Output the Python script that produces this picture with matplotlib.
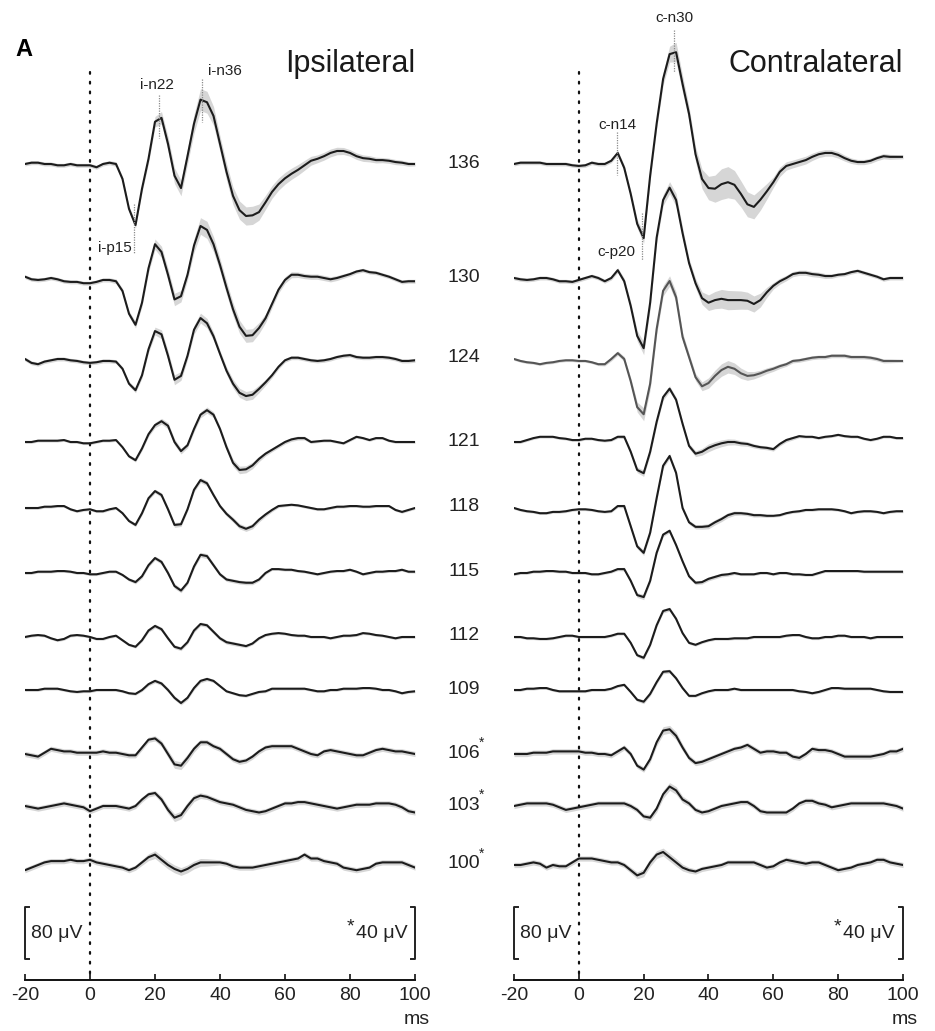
import numpy as np
import matplotlib
matplotlib.use("Agg")
import matplotlib.pyplot as plt

plt.rcParams['font.family'] = ['Liberation Sans', 'DejaVu Sans']

# ---------------- data ----------------
time_ms = np.arange(-20, 101, 2)        # 61 samples
sd_time_ms = np.arange(-20, 101, 5)     # 25 samples for the SD band

intensities = ['136', '130', '124', '121', '118', '115', '112', '109', '106', '103', '100']
starred = [False, False, False, False, False, False, False, False, True, True, True]

# mean traces, µV (negative plotted upward)
ipsi_136 = [0, -2, -2, 0, 0, 2, 2, 0, 2, 2,
            2, 5, 0, -2, 0, 23, 69, 94, 38, -8,
            -65, -71, -31, 18, 37, -12, -62, -99, -95, -74,
            -31, 12, 49, 71, 80, 79, 74, 59, 43, 31,
            22, 15, 9, 2, -5, -8, -12, -17, -20, -20,
            -17, -12, -9, -8, -6, -6, -5, -3, -2, 0, 0]
ipsi_130 = [-2, 2, 3, 2, 0, 2, 5, 6, 6, 8,
            8, 6, 3, 3, 5, 20, 55, 72, 38, -15,
            -52, -40, -5, 33, 28, -5, -50, -80, -74, -52,
            -20, 15, 48, 75, 89, 88, 77, 62, 40, 18,
            3, -5, -5, -3, -2, -2, 0, 2, 0, -3,
            -6, -10, -12, -9, -8, -5, -2, 2, 6, 5, 5]
ipsi_124 = [0, 6, 8, 4, 2, 0, 0, 2, 3, 5,
            6, 5, 3, 3, 4, 15, 38, 48, 25, -15,
            -43, -38, -5, 32, 26, -5, -45, -63, -55, -35,
            -8, 18, 38, 52, 57, 55, 46, 36, 25, 12,
            2, -2, -2, 0, 2, 3, 2, 0, -3, -5,
            -6, -3, -2, -2, -3, -3, -2, 0, 3, 3, 2]
ipsi_121 = [0, 0, -2, -2, -2, -2, -3, 0, 0, 2,
            2, 0, -2, -2, -3, 8, 22, 28, 10, -12,
            -26, -32, -25, 0, 14, 5, -20, -42, -49, -42,
            -20, 8, 32, 43, 42, 36, 26, 18, 12, 6,
            0, -4, -6, -6, 0, -1, -2, -2, 0, 2,
            -3, -8, -6, -3, -6, -6, -2, 0, 0, 0, 0]
ipsi_118 = [0, 0, 0, -2, -2, -3, -3, 2, 5, 3,
            2, 5, 5, 2, 0, 8, 20, 26, 8, -15,
            -26, -20, 2, 26, 25, 2, -28, -43, -38, -20,
            -3, 9, 18, 28, 32, 28, 18, 10, 3, -3,
            -4, -5, -4, -2, 0, 2, 2, 0, -2, -2,
            -3, -3, -2, -2, -3, -3, -3, 3, 6, 3, 0]
ipsi_115 = [0, 0, -2, -2, -2, -3, -3, -2, 0, 0,
            2, 2, 0, -2, -2, 3, 10, 14, 5, -12,
            -23, -17, 0, 20, 27, 15, -10, -28, -26, -12,
            2, 10, 12, 14, 15, 15, 10, 0, -6, -6,
            -5, -5, -3, -2, 0, 2, 0, -2, -3, -3,
            -5, -2, 2, 0, -2, -2, -3, -3, -5, -2, -2]
ipsi_112 = [0, -2, -3, -2, 2, 5, 3, -2, -3, -2,
            0, 3, 3, 0, -2, 5, 12, 15, 5, -10,
            -17, -12, 2, 15, 18, 8, -10, -20, -18, -8,
            2, 8, 10, 12, 14, 10, 2, -3, -5, -6,
            -5, -3, -2, -2, 0, 0, 0, 2, 0, -2,
            -2, -3, -6, -5, -3, -2, 0, 2, 0, 0, 0]
ipsi_109 = [0, 0, 0, -2, -2, -2, 0, 2, 3, 2,
            2, 0, 0, 0, 0, 2, 5, 6, 0, -9,
            -14, -10, 0, 12, 20, 12, -3, -14, -17, -14,
            -6, 2, 5, 8, 9, 6, 3, 2, -2, -2,
            -2, -2, -2, -2, 0, 2, 2, 0, 0, -2,
            -2, -2, -3, -3, -2, 0, 0, 2, 5, 3, 2]
ipsi_106 = [0, 1, 2, -1, -4, -3, -2, -2, -1, -1,
            -1, -1, -2, -1, -1, 0, 1, 1, -5, -11,
            -12, -8, 0, 8, 9, 3, -4, -9, -9, -6,
            -4, 0, 4, 6, 5, 2, -2, -5, -6, -6,
            -6, -6, -4, -2, 0, 1, -2, -3, -2, -1,
            0, 1, 1, -1, -3, -4, -3, -2, -2, -1, 0]
ipsi_103 = [0, 1, 2, 1, 0, -1, -2, -1, 0, 1,
            4, 2, 0, 0, 0, 1, 2, 0, -5, -9,
            -10, -5, 3, 9, 7, 0, -6, -8, -7, -5,
            -3, -2, -1, 1, 3, 4, 5, 4, 2, 0,
            -2, -2, -3, -3, -2, -1, 0, 1, 2, 1,
            0, -1, -1, -1, -2, -2, -2, -1, 1, 4, 5]
ipsi_100 = [4, 2, 0, -2, -3, -3, -3, -4, -3, -3,
            -4, -2, -1, 0, 1, 2, 4, 2, -2, -6,
            -8, -4, 0, 3, 5, 3, 0, -2, -2, -2,
            -2, -1, 1, 2, 2, 2, 1, 0, -1, -2,
            -3, -4, -5, -8, -5, -5, -3, -2, -1, 2,
            3, 4, 3, 2, -1, -2, -2, -2, -2, 0, 2]

contra_136 = [0, -2, -2, -2, -2, 0, 0, 0, 0, 2,
              3, 2, -2, 0, 0, -5, -17, 6, 46, 92,
              114, 18, -62, -131, -169, -172, -123, -77, -15, 23,
              37, 38, 31, 28, 32, 46, 62, 66, 55, 42,
              28, 12, 3, 0, -3, -6, -11, -15, -17, -17,
              -14, -9, -5, -3, -3, -5, -9, -12, -11, -11, -11]
contra_130 = [0, 2, 3, 2, 0, 0, 2, 5, 5, 6,
              3, 0, -3, 0, 5, 0, -12, 5, 43, 89,
              108, 38, -62, -120, -139, -120, -69, -23, 8, 31,
              38, 34, 32, 34, 34, 34, 35, 40, 34, 22,
              12, 5, 0, -6, -8, -8, -6, -5, -3, -3,
              -5, -6, -9, -11, -8, -5, -2, 2, 0, 0, 0]
contra_124 = [0, 3, 5, 6, 8, 6, 5, 3, 2, 2,
              3, 3, 5, 8, 8, 0, -9, 0, 34, 74,
              85, 38, -46, -105, -120, -95, -34, -3, 28, 42,
              37, 26, 17, 12, 15, 22, 26, 25, 22, 18,
              15, 11, 8, 3, 2, 0, -2, -3, -3, -5,
              -5, -5, -3, -3, -3, -2, 0, 3, 3, 3, 3]
contra_121 = [0, 0, -3, -6, -8, -8, -8, -6, -5, -3,
              -3, -5, -5, -3, -2, -3, -8, -8, 15, 43,
              48, 15, -31, -69, -82, -65, -28, 6, 18, 15,
              9, 5, 2, 0, 0, 2, 3, 6, 8, 9,
              11, 3, -3, -6, -9, -8, -8, -6, -8, -9,
              -11, -9, -8, -8, -5, -3, -5, -8, -8, -6, -6]
contra_118 = [0, 3, 5, 6, 8, 8, 6, 6, 5, 3,
              2, 2, 3, 5, 6, 5, -3, -3, 28, 59,
              69, 38, -15, -65, -80, -54, 0, 22, 29, 29,
              28, 22, 17, 11, 8, 8, 9, 11, 11, 12,
              12, 11, 8, 6, 5, 3, 3, 2, 2, 2,
              3, 5, 8, 6, 5, 5, 6, 8, 6, 5, 5]
contra_115 = [2, 0, 0, -2, -2, -3, -3, -2, -2, 0,
              0, 0, 2, 2, 0, -2, -6, -6, 12, 34,
              37, 12, -31, -59, -65, -43, -18, 5, 15, 14,
              9, 6, 3, 2, 0, 2, 2, 2, 0, 0,
              2, 0, 0, 2, 2, 3, 3, 0, -3, -3,
              -3, -3, -3, -3, -2, -2, -2, -2, -2, -2, -2]
contra_112 = [0, 0, 2, 2, 3, 3, 2, 0, -2, -2,
              0, 0, 0, 0, 0, -2, -5, -5, 9, 28,
              32, 12, -18, -40, -43, -28, -6, 9, 12, 8,
              5, 3, 3, 3, 2, 2, 2, 0, 0, 0,
              0, 0, -2, -3, -3, 0, 2, 2, 0, 0,
              -2, -2, 0, 0, 0, 2, 0, 0, 0, 0, 0]
contra_109 = [0, 0, -2, -2, -3, -3, 0, 2, 2, 2,
              2, 2, 0, 0, 0, -2, -6, -8, 3, 15,
              18, 6, -12, -28, -29, -18, -3, 9, 9, 5,
              2, 0, 0, 0, -2, 0, 0, 0, 0, 0,
              0, 0, 0, 0, 2, 3, 5, 3, 0, -3,
              -3, -2, -2, -2, -2, -2, 0, 2, 3, 3, 3]
contra_106 = [0, 0, 0, -1, -1, -1, -2, -2, -2, -2,
              -2, -1, -1, 0, 0, 1, -2, -5, 0, 9,
              12, 4, -9, -18, -19, -14, -5, 3, 7, 6,
              4, 2, 0, -2, -4, -5, -7, -4, -1, -2,
              -2, -1, -1, 2, 3, 0, -4, -3, -3, -2,
              0, 2, 2, 2, 2, 2, 1, 0, -2, -2, -4]
contra_103 = [0, -1, -2, -2, -2, -2, -1, 1, 3, 2,
              1, 0, -1, -2, -2, -2, -2, -2, 0, 3,
              8, 9, 2, -9, -15, -12, -5, -2, 3, 5,
              4, 2, 0, -1, -2, -3, -3, 0, 4, 5,
              5, 5, 5, 2, -2, -4, -4, -2, -1, 1,
              0, -1, -2, -2, -2, -2, -2, -2, -1, 0, 2]
contra_100 = [0, 0, -1, -2, -1, 2, 0, 1, 1, -2,
              -5, -5, -5, -4, -3, -2, -2, 0, 4, 8,
              6, -2, -8, -10, -6, -2, 2, 4, 5, 3,
              2, 1, 0, -2, -2, -2, -2, -2, 0, 2,
              1, -2, -4, -3, -2, -1, -2, -2, 0, 2,
              4, 3, 2, 0, -1, -2, -4, -4, -2, -1, 0]

# SD of the traces (µV) on the 5-ms grid
ipsi_sd_136 = [3, 3, 3, 3, 3, 3, 4, 5, 8, 12, 12, 18, 12, 14, 14, 10, 9, 8, 6, 6, 5, 5, 4, 4, 3]
ipsi_sd_130 = [3, 3, 3, 3, 3, 3, 4, 5, 8, 10, 8, 14, 10, 10, 10, 6, 5, 4, 4, 4, 3, 3, 3, 3, 3]
ipsi_sd_124 = [3, 3, 3, 3, 3, 3, 3, 4, 6, 8, 6, 8, 5, 7, 7, 4, 3, 3, 3, 3, 3, 3, 3, 3, 3]
ipsi_sd_121 = [2, 2, 2, 2, 2, 2, 2, 3, 4, 5, 4, 5, 4, 6, 5, 3, 3, 3, 2, 2, 2, 2, 2, 2, 2]
ipsi_sd_118 = [2, 2, 2, 2, 2, 2, 2, 3, 3, 4, 3, 4, 3, 4, 4, 3, 2, 2, 2, 2, 2, 2, 2, 2, 2]
ipsi_sd_115 = [2, 2, 2, 2, 2, 2, 2, 3, 3, 4, 3, 4, 3, 3, 3, 2, 2, 2, 2, 2, 2, 2, 2, 2, 2]
ipsi_sd_112 = [2, 2, 2, 2, 2, 2, 2, 2, 3, 3, 3, 3, 3, 3, 2, 2, 2, 2, 2, 2, 2, 2, 2, 2, 2]
ipsi_sd_109 = [2, 2, 2, 2, 2, 2, 2, 2, 3, 3, 3, 3, 2, 2, 2, 2, 2, 2, 2, 2, 2, 2, 2, 2, 2]
ipsi_sd_106 = [2, 2, 2, 2, 2, 2, 2, 2, 2, 3, 3, 2, 2, 2, 2, 2, 2, 2, 2, 2, 2, 2, 2, 2, 2]
ipsi_sd_103 = [2, 2, 2, 2, 2, 2, 2, 2, 2, 3, 3, 2, 2, 2, 2, 2, 2, 2, 2, 2, 2, 2, 2, 2, 2]
ipsi_sd_100 = [2, 2, 2, 2, 2, 2, 2, 2, 3, 3, 3, 3, 2, 2, 2, 2, 2, 2, 2, 2, 2, 2, 2, 2, 2]

contra_sd_136 = [3, 3, 3, 3, 3, 3, 3, 5, 8, 8, 15, 10, 18, 25, 20, 18, 8, 6, 6, 5, 5, 4, 4, 4, 3]
contra_sd_130 = [3, 3, 3, 3, 3, 3, 3, 5, 10, 8, 10, 6, 12, 15, 14, 12, 5, 4, 4, 4, 3, 3, 3, 3, 3]
contra_sd_124 = [2, 2, 2, 2, 2, 2, 3, 4, 10, 8, 8, 5, 8, 10, 8, 5, 4, 3, 3, 3, 3, 3, 3, 3, 2]
contra_sd_121 = [2, 2, 2, 2, 2, 2, 2, 3, 5, 5, 4, 4, 6, 5, 4, 3, 3, 3, 2, 2, 2, 2, 2, 2, 2]
contra_sd_118 = [2, 2, 2, 2, 2, 2, 2, 3, 4, 4, 4, 3, 4, 4, 3, 3, 2, 2, 2, 2, 2, 2, 2, 2, 2]
contra_sd_115 = [2, 2, 2, 2, 2, 2, 2, 3, 4, 3, 3, 3, 3, 3, 2, 2, 2, 2, 2, 2, 2, 2, 2, 2, 2]
contra_sd_112 = [2, 2, 2, 2, 2, 2, 2, 2, 3, 3, 3, 2, 2, 2, 2, 2, 2, 2, 2, 2, 2, 2, 2, 2, 2]
contra_sd_109 = [2, 2, 2, 2, 2, 2, 2, 2, 3, 3, 3, 2, 2, 2, 2, 2, 2, 2, 2, 2, 2, 2, 2, 2, 2]
contra_sd_106 = [2, 2, 2, 2, 2, 2, 2, 2, 2, 3, 3, 2, 2, 2, 2, 2, 2, 2, 2, 2, 2, 2, 2, 2, 2]
contra_sd_103 = [2, 2, 2, 2, 2, 2, 2, 2, 2, 3, 3, 2, 2, 2, 2, 2, 2, 2, 2, 2, 2, 2, 2, 2, 2]
contra_sd_100 = [2, 2, 2, 2, 2, 2, 2, 2, 3, 3, 3, 2, 2, 2, 2, 2, 2, 2, 2, 2, 2, 2, 2, 2, 2]

ipsi_traces = [ipsi_136, ipsi_130, ipsi_124, ipsi_121, ipsi_118, ipsi_115,
               ipsi_112, ipsi_109, ipsi_106, ipsi_103, ipsi_100]
contra_traces = [contra_136, contra_130, contra_124, contra_121, contra_118, contra_115,
                 contra_112, contra_109, contra_106, contra_103, contra_100]
ipsi_sds = [ipsi_sd_136, ipsi_sd_130, ipsi_sd_124, ipsi_sd_121, ipsi_sd_118, ipsi_sd_115,
            ipsi_sd_112, ipsi_sd_109, ipsi_sd_106, ipsi_sd_103, ipsi_sd_100]
contra_sds = [contra_sd_136, contra_sd_130, contra_sd_124, contra_sd_121, contra_sd_118,
              contra_sd_115, contra_sd_112, contra_sd_109, contra_sd_106, contra_sd_103,
              contra_sd_100]

xticks = [-20, 0, 20, 40, 60, 80, 100]

# ---------------- layout ----------------
W, H = 935, 1031
PX_PER_UV = 52.0 / 80.0          # vertical scale: 80 µV bar = 52 px
row_base_px = [164, 278, 359, 442, 508, 573, 637, 690, 754, 806, 865]
AXIS_PX = 980

fig = plt.figure(figsize=(W / 100, H / 100), dpi=100)


def fx(px):
    return px / W


def fy(py):
    return 1 - py / H


LINE = '#1c1c1c'
BAND = '#d6d6d6'

panels = [
    dict(x0=25, x1=415, traces=ipsi_traces, sds=ipsi_sds, title='Ipsilateral',
         special={}, ann=[('i-n22', 21.2, 95, 138, 20.6, 85, 'center'),
                          ('i-n36', 34.6, 79, 122, 36.3, 71, 'left'),
                          ('i-p15', 13.6, 204, 253, 12.8, 248, 'right')],
         star_x=97.6),
    dict(x0=514, x1=903, traces=contra_traces, sds=contra_sds, title='Contralateral',
         special={2: '#555555'}, ann=[('c-n30', 29.3, 30, 72, 29.6, 18, 'center'),
                                      ('c-n14', 11.9, 132, 175, 12.0, 125, 'center'),
                                      ('c-p20', 19.5, 213, 260, 17.4, 252, 'right')],
         star_x=97.4),
]

for p in panels:
    ax = fig.add_axes([fx(p['x0']), fy(AXIS_PX), fx(p['x1'] - p['x0']), AXIS_PX / H])
    ax.set_xlim(-20, 100)
    ax.set_ylim(AXIS_PX, 0)
    ax.patch.set_alpha(0)
    for s in ['left', 'top', 'right']:
        ax.spines[s].set_visible(False)
    ax.spines['bottom'].set_linewidth(1.4)
    ax.spines['bottom'].set_color('#111111')
    ax.set_yticks([])
    ax.set_xticks(xticks)
    ax.set_xticklabels([str(v) for v in xticks])
    ax.tick_params(axis='x', direction='in', length=4, width=1.2, labelsize=14,
                   pad=5, colors='#111111', labelcolor='#222222')

    # zero line
    ax.plot([0, 0], [72, AXIS_PX], color='#111111', lw=1.6,
            linestyle=(0, (0.8, 3.6)), dash_capstyle='round')

    curves = []
    for i, (tr, sd) in enumerate(zip(p['traces'], p['sds'])):
        gain = 2.0 if starred[i] else 1.0
        y = row_base_px[i] + np.asarray(tr, float) * gain * PX_PER_UV
        s = np.interp(time_ms, sd_time_ms, np.asarray(sd, float)) * gain * PX_PER_UV
        ax.fill_between(time_ms, y - s, y + s, color=BAND, lw=0, zorder=1)
        curves.append(y)
    for i, y in enumerate(curves):
        ax.plot(time_ms, y, color=p['special'].get(i, LINE), lw=1.5, zorder=3,
                solid_joinstyle='round', solid_capstyle='round')

    # latency markers
    for lab, t, y0, y1, tx, ty, ha in p['ann']:
        ax.plot([t, t], [y0, y1], color='#8a8a8a', lw=0.9, linestyle=(0, (1, 1)), zorder=4)
        ax.text(tx, ty, lab, fontsize=11, ha=ha, va='center', color='#222222')

    # scale bars
    bar80 = 80 * PX_PER_UV
    bar40 = 40 * 2 * PX_PER_UV
    top = 907
    ax.plot([-18.7, -20, -20, -18.7], [top, top, top + bar80, top + bar80],
            color='#222222', lw=1.4, clip_on=False)
    ax.text(-18.2, top + bar80 / 2, '80 μV', fontsize=14, ha='left', va='center',
            color='#222222')
    ax.plot([98.7, 100, 100, 98.7], [top, top, top + bar40, top + bar40],
            color='#222222', lw=1.4, clip_on=False)
    ax.text(p['star_x'], top + bar40 / 2, '40 μV', fontsize=14, ha='right', va='center',
            color='#222222')
    ax.text(p['star_x'] - 16.3, top + bar40 / 2 - 6, '*', fontsize=14, ha='right',
            va='center', color='#222222')

    ax.text(100.6, 1020, 'ms', fontsize=14, ha='center', va='center', clip_on=False,
            color='#222222')
    ax.text(100, 64, p['title'], fontsize=22, ha='right', va='center', color='#1a1a1a')

# intensity labels between panels
for i, lab in enumerate(intensities):
    fig.text(fx(464), fy(row_base_px[i] - 1), lab, fontsize=14, ha='center', va='center',
             color='#222222')
    if starred[i]:
        fig.text(fx(482), fy(row_base_px[i] - 11), '*', fontsize=10, ha='center',
                 va='center', color='#222222')

fig.text(fx(24), fy(50), 'A', fontsize=17, fontweight='bold', ha='center', va='center')

fig.savefig('out.png', dpi=100)
